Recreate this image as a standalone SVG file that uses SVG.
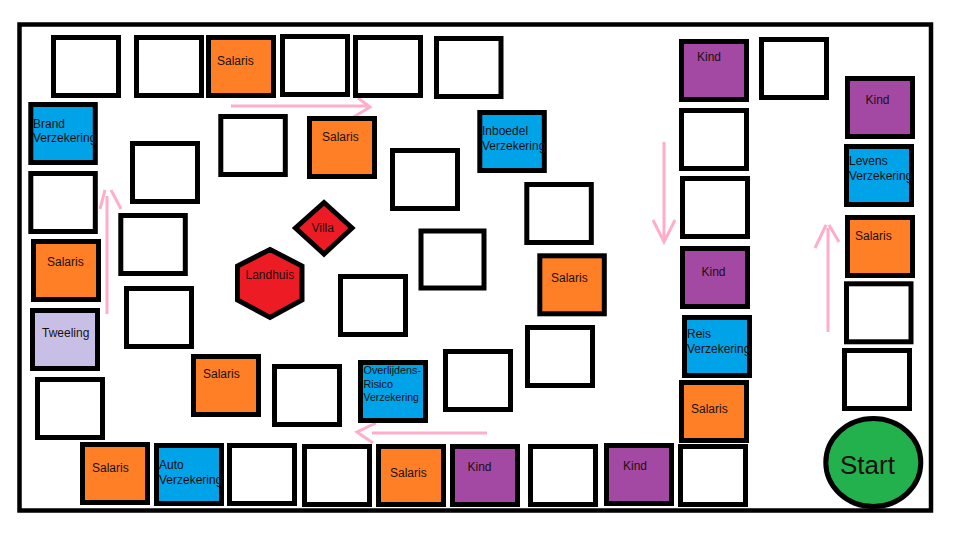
<svg xmlns="http://www.w3.org/2000/svg" width="960" height="540" viewBox="0 0 960 540">
<style>
.t{stroke:#000;stroke-width:5}
.w{fill:#fff}.o{fill:#FF7F27}.bl{fill:#00A2E8}.p{fill:#A349A4}.l{fill:#C8BFE7}.r{fill:#ED1C24}.g{fill:#22B14C}
text{font-family:"Liberation Sans",Arial,sans-serif;font-size:12px;fill:#1a1010}
.a{fill:none;stroke:#FFAEC9;stroke-width:3}
</style>
<rect x="0" y="0" width="960" height="540" fill="#fff"/>
<rect id="frame" x="19.5" y="24.5" width="911.5" height="486" fill="none" stroke="#000" stroke-width="4.5"/>
<g id="connectors">
<path class="a" d="M231,106H367M358,98L370,107L352,118"/>
<path class="a" d="M107,314V196M100,209L105,190M111,190L121,209"/>
<path class="a" d="M664,142V240M653,220L664,242L675,220"/>
<path class="a" d="M828,332V228M815,248L826,225M829,225L839,242"/>
<path class="a" d="M487,433H372M376,423L357,432L373,443"/>
</g>
<g id="n1"><rect class="t w" x="53.5" y="37.5" width="65" height="58"/></g>
<g id="n2"><rect class="t w" x="136.5" y="37.5" width="65" height="58"/></g>
<g id="n3"><rect class="t o" x="208.5" y="37.5" width="65" height="58"/><text x="217" y="65">Salaris</text></g>
<g id="n4"><rect class="t w" x="282.5" y="36.5" width="65" height="58"/></g>
<g id="n5"><rect class="t w" x="355.5" y="37.5" width="65" height="58"/></g>
<g id="n6"><rect class="t w" x="436.5" y="38.5" width="64.5" height="58"/></g>
<g id="n7"><rect class="t bl" x="30.8" y="104.5" width="64.5" height="58"/><text x="33" y="127.5">Brand</text><text x="33" y="142">Verzekering</text></g>
<g id="n8"><rect class="t w" x="220.8" y="116.5" width="64.5" height="58"/></g>
<g id="n9"><rect class="t o" x="309.5" y="118.5" width="65" height="58"/><text x="322" y="141">Salaris</text></g>
<g id="n10"><rect class="t w" x="132.5" y="143.5" width="65" height="58"/></g>
<g id="n11"><rect class="t w" x="392.5" y="150.5" width="65" height="58"/></g>
<g id="n12"><rect class="t w" x="30.8" y="173.5" width="64.5" height="58"/></g>
<g id="n13"><rect class="t w" x="120.8" y="215.5" width="64.5" height="58"/></g>
<g id="n14"><rect class="t o" x="33.5" y="241.5" width="65" height="58"/><text x="47" y="266">Salaris</text></g>
<g id="n15"><rect class="t bl" x="479.8" y="112.5" width="64.5" height="58"/><text x="482" y="135">Inboedel</text><text x="482" y="150">Verzekering</text></g>
<g id="n16"><rect class="t w" x="526.8" y="184.5" width="64.5" height="58"/></g>
<g id="n17"><rect class="t o" x="539.8" y="255.8" width="64.5" height="58"/><text x="551" y="282">Salaris</text></g>
<g id="n18"><rect class="t p" x="681.5" y="41.5" width="65" height="58"/><text x="697" y="61">Kind</text></g>
<g id="n19"><rect class="t w" x="761.5" y="39.5" width="65" height="58"/></g>
<g id="n20"><rect class="t p" x="847.5" y="78.5" width="65" height="58"/><text x="865.5" y="104">Kind</text></g>
<g id="n21"><rect class="t w" x="681.5" y="110.5" width="65" height="58"/></g>
<g id="n22"><rect class="t bl" x="846.5" y="146.5" width="65" height="58"/><text x="849" y="165">Levens</text><text x="849" y="180">Verzekering</text></g>
<g id="n23"><rect class="t w" x="682.5" y="178.5" width="65" height="58"/></g>
<g id="n24"><rect class="t p" x="682.5" y="248.5" width="65" height="58"/><text x="701.5" y="276">Kind</text></g>
<g id="n25"><rect class="t o" x="847.5" y="217.5" width="65" height="58"/><text x="855" y="240">Salaris</text></g>
<g id="n26"><rect class="t w" x="846.5" y="283.8" width="64.5" height="58"/></g>
<g id="n27"><rect class="t w" x="844.5" y="350.5" width="65" height="58"/></g>
<g id="start"><ellipse class="t g" cx="873.3" cy="462.5" rx="47.5" ry="44"/><text x="840" y="473.5" style="font-size:26px">Start</text></g>
<g id="n28"><rect class="t bl" x="684.5" y="317.5" width="65" height="58"/><text x="687" y="338">Reis</text><text x="687" y="353">Verzekering</text></g>
<g id="n29"><rect class="t o" x="681.5" y="382.5" width="65" height="58"/><text x="691" y="413">Salaris</text></g>
<g id="n30"><rect class="t w" x="680.5" y="446.5" width="65" height="58"/></g>
<g id="n31"><rect class="t p" x="606.5" y="445.5" width="65" height="58"/><text x="623" y="469.5">Kind</text></g>
<g id="n32"><rect class="t w" x="530.5" y="446.5" width="65" height="58"/></g>
<g id="n33"><rect class="t p" x="452.5" y="446.5" width="65" height="58"/><text x="467.5" y="470.5">Kind</text></g>
<g id="n34"><rect class="t o" x="378.5" y="446.5" width="65" height="58"/><text x="390" y="477">Salaris</text></g>
<g id="n35"><rect class="t w" x="304.5" y="446.5" width="65" height="58"/></g>
<g id="n36"><rect class="t w" x="229.5" y="445.5" width="65" height="58"/></g>
<g id="n37"><rect class="t bl" x="156.5" y="445.5" width="65" height="58"/><text x="159" y="469">Auto</text><text x="159" y="483.5">Verzekering</text></g>
<g id="n38"><rect class="t o" x="82.5" y="444.5" width="65" height="58"/><text x="92" y="472">Salaris</text></g>
<g id="n39"><rect class="t l" x="32.5" y="310.5" width="65" height="58"/><text x="42" y="337">Tweeling</text></g>
<g id="n40"><rect class="t w" x="37.5" y="379.5" width="65" height="58"/></g>
<g id="n41"><rect class="t w" x="126.5" y="288.5" width="65" height="58"/></g>
<g id="n42"><rect class="t o" x="193.5" y="356.5" width="65" height="58"/><text x="203" y="377.5">Salaris</text></g>
<g id="n43"><rect class="t w" x="274.5" y="366.5" width="65" height="58"/></g>
<g id="n44"><rect class="t bl" x="360.5" y="362.5" width="65" height="58"/><text x="363.5" y="374" style="font-size:10.8px">Overlijdens-</text><text x="363.5" y="387.5" style="font-size:10.8px">Risico</text><text x="363.5" y="401" style="font-size:10.5px">Verzekering</text></g>
<g id="n45"><rect class="t w" x="340.5" y="276.5" width="65" height="58"/></g>
<g id="n46"><rect class="t w" x="445.5" y="351.5" width="65" height="58"/></g>
<g id="n47"><rect class="t w" x="421" y="231" width="63" height="57"/></g>
<g id="n48"><rect class="t w" x="527.5" y="327.5" width="65" height="58"/></g>
<g id="villa"><path class="t r" d="M324,202.5L352,228L324,254L295.5,228Z"/><text x="311.5" y="232">Villa</text></g>
<g id="landhuis"><path class="t r" d="M270,249.5L302,266L302,300L270,317.5L237.5,300L237.5,266Z"/><text x="245.5" y="278.5">Landhuis</text></g>
</svg>
